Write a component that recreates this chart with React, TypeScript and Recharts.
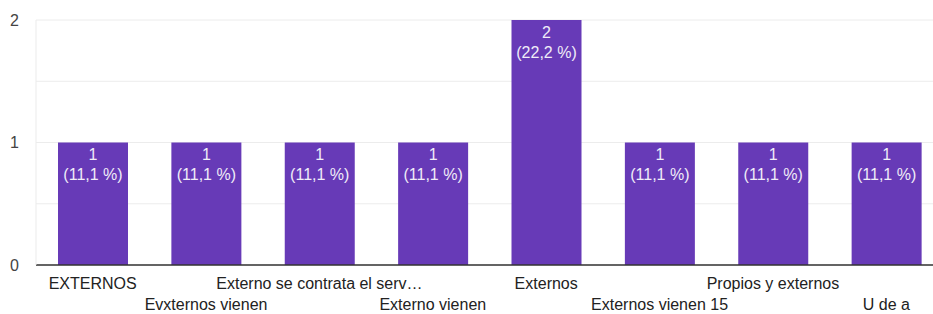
import React from 'react'
import { Bar, BarChart, CartesianGrid, LabelList, XAxis, YAxis } from 'recharts'

const categories = [
  'EXTERNOS',
  'Evxternos vienen',
  'Externo se contrata el serv…',
  'Externo vienen',
  'Externos',
  'Externos vienen 15',
  'Propios y externos',
  'U de a',
]
const counts = [1, 1, 1, 1, 2, 1, 1, 1]
const yTicks = [0, 0.5, 1, 1.5, 2]

const total = counts.reduce((a, b) => a + b, 0)
const data = categories.map((name, i) => ({ name, count: counts[i] }))

const FONT = 'Arial, "Liberation Sans", sans-serif'

function XTick(props: any) {
  const { x, y, payload, index } = props
  const row = index % 2
  return (
    <text x={x} y={y + (row === 0 ? 16 : 37)} textAnchor="middle" fontSize={16} fill="#222" fontFamily={FONT}>
      {payload.value}
    </text>
  )
}

function YTick(props: any) {
  const { y, payload } = props
  if (payload.value % 1 !== 0) return null
  return (
    <text x={19} y={y} textAnchor="end" dominantBaseline="central" fontSize={16} fill="#444" fontFamily={FONT}>
      {payload.value}
    </text>
  )
}

function BarLabel(props: any) {
  const { x, y, width, value } = props
  const pct = ((value / total) * 100).toFixed(1).replace('.', ',')
  const cx = x + width / 2
  return (
    <g fontSize={16} fill="#f0ecf8" fontFamily={FONT} textAnchor="middle">
      <text x={cx} y={y + 12} dominantBaseline="central">{value}</text>
      <text x={cx} y={y + 32} dominantBaseline="central">({pct} %)</text>
    </g>
  )
}

export default function App() {
  return (
    <div style={{ position: 'fixed', left: 0, top: 0, width: 933, height: 314, overflow: 'hidden', background: '#fff' }}>
      <BarChart width={943} height={314} data={data} margin={{ top: 20, right: 0, bottom: 0, left: 0 }} barSize={70}>
        <CartesianGrid vertical={false} stroke="#ececec" />
        <XAxis
          dataKey="name"
          height={49}
          interval={0}
          tick={<XTick />}
          tickLine={false}
          axisLine={{ stroke: '#333', strokeWidth: 1.5 }}
        />
        <YAxis
          width={36}
          domain={[0, 2]}
          ticks={yTicks}
          tick={<YTick />}
          tickLine={false}
          axisLine={{ stroke: '#ebebeb' }}
        />
        <Bar dataKey="count" fill="#673ab7" isAnimationActive={false}>
          <LabelList dataKey="count" content={<BarLabel />} />
        </Bar>
      </BarChart>
    </div>
  )
}
